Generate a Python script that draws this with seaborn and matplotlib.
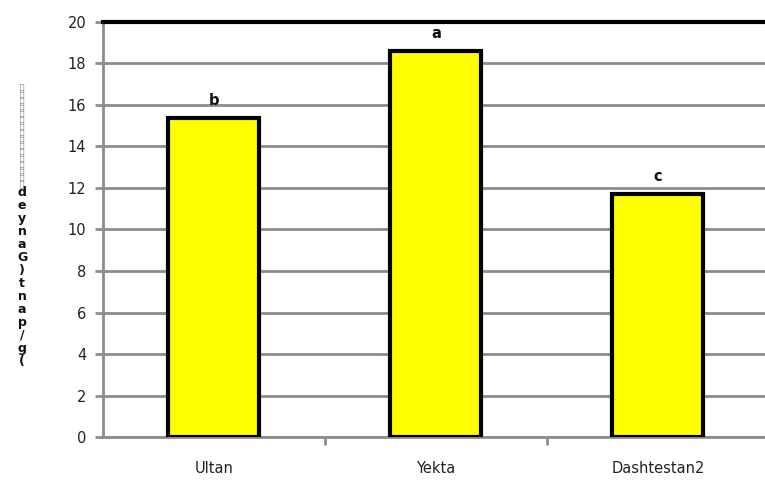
import matplotlib
matplotlib.use("Agg")
import matplotlib.pyplot as plt
import seaborn as sns
import pandas as pd

cultivars = ["Ultan", "Yekta", "Dashtestan2"]
grain_yield = [15.35, 18.6, 11.7]
letters = ["b", "a", "c"]
yticks = [0, 2, 4, 6, 8, 10, 12, 14, 16, 18, 20]
ylabel_chars = "deynaG)tnap/g("

sns.set_style("white")
plt.rcParams['font.family'] = ['DejaVu Sans']

df = pd.DataFrame({"cultivar": cultivars, "yield": grain_yield})

fig = plt.figure(figsize=(7.65, 4.83), dpi=100)
ax = fig.add_axes([0.1346, 0.0952, 0.8706, 0.8593])

sns.barplot(data=df, x="cultivar", y="yield", color="#ffff00", width=0.41,
            edgecolor="black", linewidth=3, saturation=1, ax=ax, zorder=3)

for i, (v, t) in enumerate(zip(grain_yield, letters)):
    ax.text(i, v + 0.5, t, ha="center", va="bottom", fontsize=10.5,
            fontweight="bold", color="#111111")

ax.set_ylim(0, 20)
ax.set_xlim(-0.5, 2.5)
ax.set_yticks(yticks)
ax.yaxis.grid(True, color="#8c8c8c", linewidth=2, zorder=0)
ax.set_axisbelow(True)
ax.tick_params(axis="y", left=True, direction="out", length=6, width=2,
               color="#8c8c8c", labelsize=10.5, pad=6, labelcolor="#222222")
ax.set_xticks([0, 1, 2])
ax.set_xticks([0.5, 1.5], minor=True)
ax.tick_params(axis="x", which="major", bottom=False, labelsize=10.5, pad=14,
               labelcolor="#222222")
ax.tick_params(axis="x", which="minor", bottom=True, direction="out", length=6,
               width=2, color="#8c8c8c")
ax.set_xlabel("")
ax.set_ylabel("")

ax.spines["top"].set_color("black")
ax.spines["top"].set_linewidth(3)
ax.spines["right"].set_visible(False)
for s in ["left", "bottom"]:
    ax.spines[s].set_color("#8c8c8c")
    ax.spines[s].set_linewidth(2)

# garbled vertical axis title, stacked characters
fig.text(0.029, 0.83, "\n".join(["\u25af"] * 16), ha="center", va="top",
         fontsize=8, color="#999999", linespacing=0.55)
fig.text(0.029, 0.615, "\n".join(ylabel_chars), ha="center", va="top",
         fontsize=9, fontweight="bold", color="#111111", linespacing=1.0)

fig.savefig("out.png", dpi=100)
